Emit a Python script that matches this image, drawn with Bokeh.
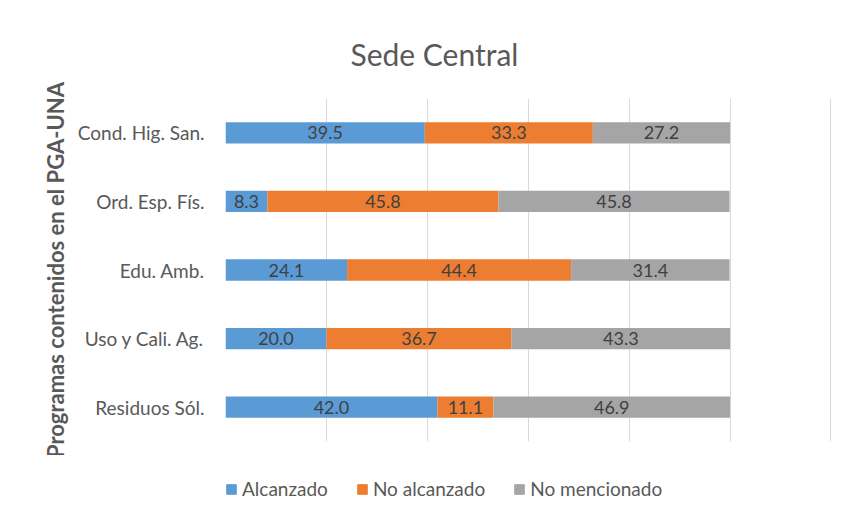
from bokeh.plotting import figure
from bokeh.layouts import column
from bokeh.models import ColumnDataSource, Legend, LegendItem, FixedTicker
from bokeh.core.properties import value
from bokeh.embed import file_html
from bokeh.resources import INLINE

categories = ["Cond. Hig. San.", "Ord. Esp. Fís.", "Edu. Amb.", "Uso y Cali. Ag.", "Residuos Sól."]
alcanzado = [39.5, 8.3, 24.1, 20.0, 42.0]
no_alcanzado = [33.3, 45.8, 44.4, 36.7, 11.1]
no_mencionado = [27.2, 45.8, 31.4, 43.3, 46.9]
series_names = ["Alcanzado", "No alcanzado", "No mencionado"]
colors = ["#5B9BD5", "#ED7D31", "#A5A5A5"]
x_ticks = [0, 20, 40, 60, 80, 100, 120]

FONT = "Lato"
TXT = "#595959"

factors = list(reversed(categories))
p = figure(width=838, height=455, y_range=factors,
           x_range=(0, 120.3), output_backend="svg", toolbar_location=None,
           min_border_left=225, min_border_right=6, min_border_top=98, min_border_bottom=14)
p.y_range.range_padding = 0

src = ColumnDataSource(dict(cat=categories, a=alcanzado, b=no_alcanzado, c=no_mencionado))
rs = p.hbar_stack(["a", "b", "c"], y="cat", height=0.31, color=colors, source=src, line_color=None)

data = [alcanzado, no_alcanzado, no_mencionado]
lx, ly, lt = [], [], []
for i, cat in enumerate(categories):
    left = 0.0
    for s in data:
        v = s[i]
        lx.append(left + v / 2)
        ly.append(cat)
        lt.append(f"{v:.1f}")
        left += v
p.text(x="x", y="y", text="t", source=ColumnDataSource(dict(x=lx, y=ly, t=lt)),
       text_align="center", text_baseline="middle", text_color="#404040",
       text_font=value(FONT), text_font_size="18px")

p.title.text = "Sede Central"
p.title.align = "left"
p.title.offset = 125
p.title.text_font = FONT
p.title.text_font_size = "30px"
p.title.text_font_style = "normal"
p.title.text_color = TXT
p.title.standoff = 54

p.xaxis.visible = False
p.xgrid.ticker = FixedTicker(ticks=x_ticks)
p.xgrid.grid_line_color = "#D9D9D9"
p.ygrid.grid_line_color = None
p.outline_line_color = None

p.yaxis.axis_line_color = None
p.yaxis.major_tick_line_color = None
p.yaxis.minor_tick_line_color = None
p.yaxis.major_label_text_font = FONT
p.yaxis.major_label_text_font_size = "19px"
p.yaxis.major_label_text_color = TXT
p.yaxis.major_label_standoff = 15
p.yaxis.axis_label = "Programas contenidos en el PGA-UNA"
p.yaxis.axis_label_text_font = FONT
p.yaxis.axis_label_text_font_size = "22px"
p.yaxis.axis_label_text_font_style = "bold"
p.yaxis.axis_label_text_color = TXT
p.yaxis.axis_label_standoff = 6

# legend figure below the chart (its swatch renderers sit outside its visible range)
p2 = figure(width=838, height=50, x_range=(0, 1), y_range=(0, 1), output_backend="svg",
            toolbar_location=None, min_border=0)
p2.axis.visible = False
p2.grid.visible = False
p2.outline_line_color = None
swatches = [p2.rect(x=[-5], y=[-5], width=1, height=1, color=c) for c in colors]
legend = Legend(items=[LegendItem(label=n, renderers=[r]) for n, r in zip(series_names, swatches)],
                orientation="horizontal", location=(0, 5), border_line_color=None,
                background_fill_alpha=0,
                label_text_font=FONT, label_text_font_size="19px", label_text_color=TXT,
                glyph_width=12, glyph_height=12, label_standoff=5, spacing=28,
                margin=0, padding=0)
p2.add_layout(legend, "center")

layout = column(p, p2, spacing=0)
open("out.html", "w").write(file_html(layout, INLINE))
